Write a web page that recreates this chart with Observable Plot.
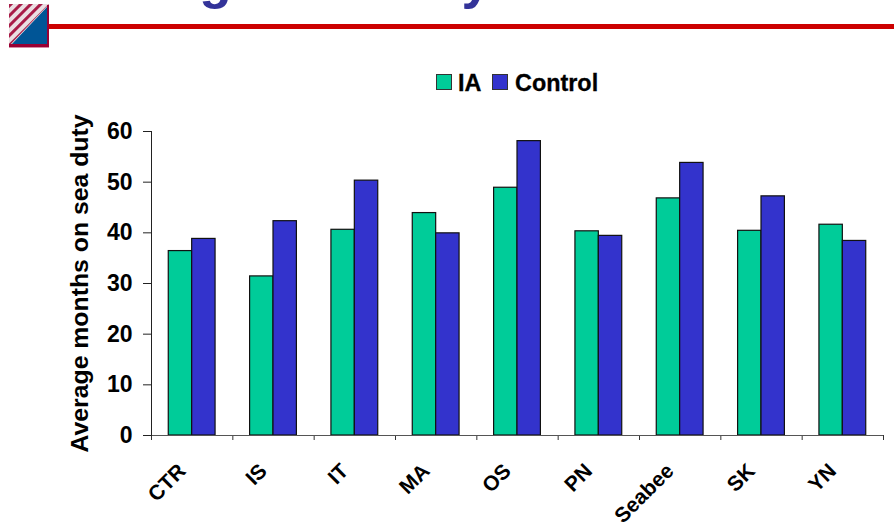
<!DOCTYPE html>
<html>
<head>
<meta charset="utf-8">
<script src="https://cdn.jsdelivr.net/npm/d3@7"></script>
<script src="https://cdn.jsdelivr.net/npm/@observablehq/plot@0.6"></script>
<style>
  html, body { margin: 0; padding: 0; background: #fff; overflow: hidden; }
  body { width: 894px; height: 523px; position: relative; font-family: "Liberation Sans", Arial, sans-serif; }
  #title { position: absolute; left: 54px; top: -49px; font: bold 53px "Liberation Sans", Arial, sans-serif; color: #333399; white-space: nowrap; line-height: 58px; }
  #rule { position: absolute; left: 48px; right: 0; top: 24px; height: 5px; background: #cc0000; }
  #logo { position: absolute; left: 9px; top: 4px; }
  #legend { position: absolute; top: 70px; left: 436px; font: bold 23.4px "Liberation Sans", Arial, sans-serif; color: #000; line-height: 27px; white-space: nowrap; -webkit-text-stroke: 0.3px #000; }
  #legend i { position: absolute; top: 4px; width: 14px; height: 14px; border: 1px solid #333; }
  #legend span { position: absolute; top: 0; }
  #chart { position: absolute; left: 0; top: 0; }
  #chart svg text { -webkit-text-stroke: 0.3px #000; }
</style>
</head>
<body>
<div id="chart"></div>
<div id="title">Average sea duty</div>
<div id="rule"></div>
<svg id="logo" width="40" height="44" viewBox="0 0 40 44">
  <defs>
    <pattern id="hatch" width="7" height="7" patternUnits="userSpaceOnUse" patternTransform="rotate(-45)">
      <rect width="7" height="7" fill="#eadfe2"/>
      <rect width="7" height="3" fill="#a81c48"/>
    </pattern>
  </defs>
  <rect width="40" height="44" fill="url(#hatch)"/>
  <polygon points="40,0 40,42 0,42" fill="#e8e8e8"/>
  <polygon points="38,3 38,40 3,40" fill="#005596"/>
  <polygon points="0,40 38,40 38,1 40,1 40,43 0,43" fill="#990033"/>
  <polygon points="0,44 40,44 40,43 0,43" fill="#d48aa4"/>
</svg>
<div id="legend">
  <i style="left:0;background:#00CC99"></i><span style="left:22px">IA</span>
  <i style="left:56px;background:#3333CC"></i><span style="left:79px">Control</span>
</div>
<script>
const categories = ["CTR", "IS", "IT", "MA", "OS", "PN", "Seabee", "SK", "YN"];
const iaValues = [36.4, 31.4, 40.6, 43.9, 48.9, 40.3, 46.8, 40.4, 41.6];
const controlValues = [38.8, 42.3, 50.3, 39.9, 58.1, 39.4, 53.8, 47.2, 38.4];
const yTicks = [0, 10, 20, 30, 40, 50, 60];
const yLabel = "Average months on sea duty";

const font = "Liberation Sans, Arial, sans-serif";
const iaRows = categories.map((c, i) => ({category: c, value: iaValues[i]}));
const controlRows = categories.map((c, i) => ({category: c, value: controlValues[i]}));

const marginLeft = 151, marginRight = 11;
const halfBand = (894 - marginLeft - marginRight) / categories.length / 2;
const barWidth = 23.4;
const outerInset = halfBand - barWidth;

const plot = Plot.plot({
  width: 894,
  height: 523,
  marginLeft,
  marginRight,
  marginTop: 131,
  marginBottom: 88,
  style: {background: "transparent", fontFamily: font, fontWeight: "bold", color: "#000", overflow: "visible"},
  x: {type: "band", domain: categories, padding: 0, round: false, label: null},
  y: {domain: [0, 60], label: null},
  marks: [
    Plot.barY(iaRows, {x: "category", y: "value", fill: "#00CC99", stroke: "#111", strokeWidth: 1.2, insetLeft: outerInset, insetRight: halfBand}),
    Plot.barY(controlRows, {x: "category", y: "value", fill: "#3333CC", stroke: "#111", strokeWidth: 1.2, insetLeft: halfBand, insetRight: outerInset}),
    Plot.ruleX(categories, {x: d => d, y1: 0, y2: 0, dx: -halfBand, insetBottom: -5, stroke: "#333"}),
    Plot.ruleX(categories.slice(-1), {x: d => d, y1: 0, y2: 0, dx: halfBand, insetBottom: -5, stroke: "#333"}),
    Plot.ruleY([0], {stroke: "#555"}),
    Plot.axisY({ticks: yTicks, tickSize: 8, tickPadding: 11, fontSize: 23, label: null, stroke: "#222", tickFormat: d3.format("d")}),
    Plot.axisY({ticks: [], tickSize: 0, fontSize: 24.8, label: yLabel, labelAnchor: "center", labelArrow: "none", labelOffset: 81}),
    Plot.frame({anchor: "left", stroke: "#222"}),
    Plot.axisX({tickSize: 0, tickPadding: 32, dx: -10, tickRotate: -45, fontSize: 21, label: null})
  ]
});
document.getElementById("chart").append(plot);
</script>
</body>
</html>
